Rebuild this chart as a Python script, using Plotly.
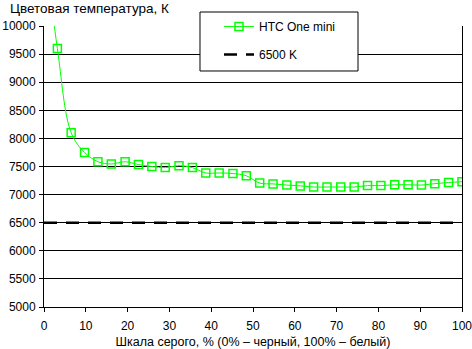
import plotly.graph_objects as go

# Grey-scale level (%) and measured colour temperature (K)
gray_levels = [0, 3.2, 6.5, 9.7, 12.9, 16.1, 19.4, 22.6, 25.8, 29.0, 32.3, 35.5,
               38.7, 41.9, 45.2, 48.4, 51.6, 54.8, 58.1, 61.3, 64.5, 67.7, 71.0,
               74.2, 77.4, 80.6, 83.9, 87.1, 90.3, 93.5, 96.8, 100]
htc_temp = [11500, 9600, 8100, 7750, 7585, 7545, 7585, 7535, 7500, 7480, 7515, 7480,
            7385, 7385, 7375, 7335, 7205, 7190, 7170, 7155, 7135, 7135, 7135,
            7135, 7160, 7160, 7175, 7175, 7170, 7195, 7215, 7230]

ref_x = [0, 100]
ref_temp = [6500, 6500]

y_ticks = [5000, 5500, 6000, 6500, 7000, 7500, 8000, 8500, 9000, 9500, 10000]
y_tick_text = [str(v) for v in y_ticks]
x_ticks = [0, 10, 20, 30, 40, 50, 60, 70, 80, 90, 100]

FONT = "Arial, Liberation Sans, sans-serif"

fig = go.Figure()
fig.add_trace(go.Scatter(
    x=gray_levels, y=htc_temp, name="HTC One mini", mode="lines+markers",
    line=dict(color="#00FF00", width=1, shape="spline", smoothing=1),
    marker=dict(symbol="square-open", size=8, color="#00FF00",
                line=dict(color="#00FF00", width=1.5)),
    legendgroup="a",
))
fig.add_trace(go.Scatter(
    x=ref_x, y=ref_temp, name="6500 K", mode="lines",
    line=dict(color="black", width=2.5, dash="13px,9px"),
    legendgroup="b",
))

# legend frame
fig.add_shape(type="rect", xref="paper", yref="paper",
              x0=0.3732, x1=0.7512, y0=0.8399, y1=1.0498,
              fillcolor="white", line=dict(color="black", width=1),
              layer="above")

fig.update_layout(
    width=472, height=349,
    margin=dict(l=44, r=10, t=26, b=42),
    plot_bgcolor="white", paper_bgcolor="white",
    font=dict(family=FONT, size=12, color="black"),
    title=dict(text="Цветовая температура, К", x=10 / 472, xanchor="left",
               xref="container", y=1 - 8 / 349, yanchor="middle",
               font=dict(size=13.5, color="black")),
    showlegend=True,
    legend=dict(x=0.4187, y=1.05, xanchor="left", yanchor="top",
                bgcolor="rgba(0,0,0,0)", borderwidth=0,
                tracegroupgap=9, font=dict(size=12)),
    xaxis=dict(range=[0, 100], tickvals=x_ticks, ticks="outside", ticklen=4,
               tickcolor="black", showline=True, linecolor="black", linewidth=1,
               showgrid=False, zeroline=False, automargin=False,
               ticklabelstandoff=4, ticklabeloverflow="allow",
               title=dict(text="Шкала серого, % (0% – черный, 100% – белый)",
                          standoff=10, font=dict(size=12.5))),
    yaxis=dict(range=[5000, 10000], tickvals=y_ticks, ticktext=y_tick_text,
               ticks="outside", ticklen=4,
               tickcolor="black", showline=True, linecolor="black", linewidth=1,
               mirror=True, showgrid=True, gridcolor="black", gridwidth=1,
               zeroline=False, automargin=False, ticklabelstandoff=1,
               ticklabeloverflow="allow"),
)

fig.write_html("out.html")
